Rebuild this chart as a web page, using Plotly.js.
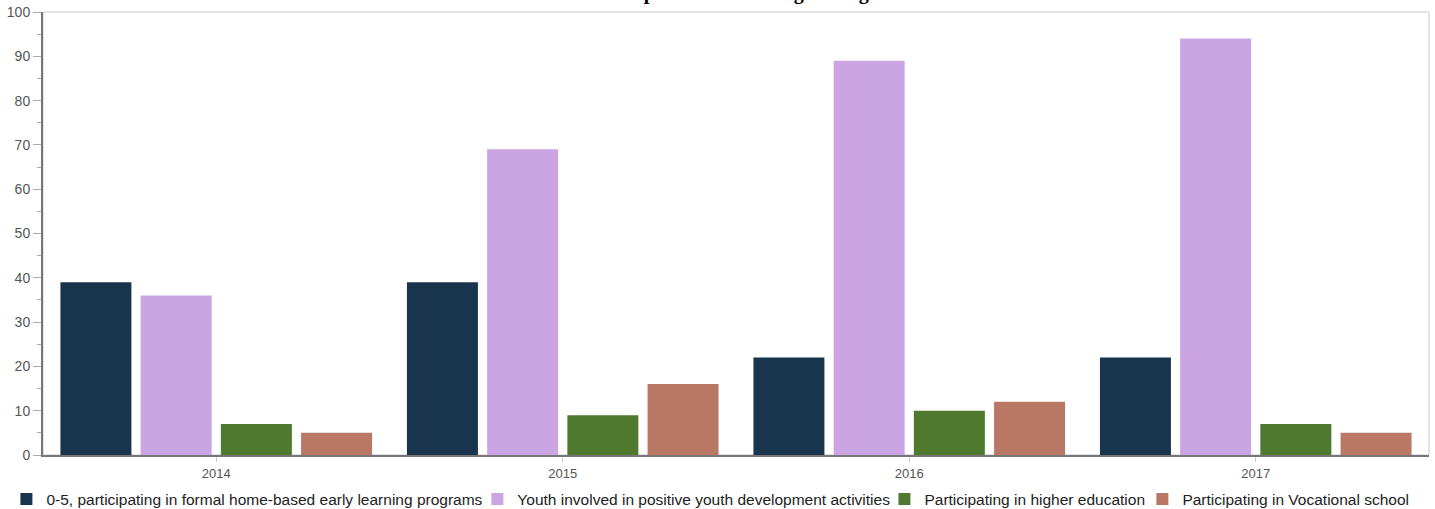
<!DOCTYPE html>
<html>
<head>
<meta charset="utf-8">
<script src="https://cdn.plot.ly/plotly-3.0.1.min.js"></script>
<style>html,body{margin:0;padding:0;background:#fff;}#chart{width:1435px;height:509px;}</style>
</head>
<body>
<div id="chart"></div>
<script>
var years = ['2014', '2015', '2016', '2017'];
var seriesNames = [
  '0-5, participating in formal home-based early learning programs',
  'Youth involved in positive youth development activities',
  'Participating in higher education',
  'Participating in Vocational school'
];
var earlyLearning = [39, 39, 22, 22];
var youthDevelopment = [36, 69, 89, 94];
var higherEducation = [7, 9, 10, 7];
var vocationalSchool = [5, 16, 12, 5];
var seriesColors = ['#18354d', '#cba4e3', '#4e792e', '#b97766'];
var yTicks = [0, 10, 20, 30, 40, 50, 60, 70, 80, 90, 100];
var chartTitle = 'Participation in Learning Settings';

var legendIds = ['legend', 'legend2', 'legend3', 'legend4'];
var legendX = [-0.0264, 0.3134, 0.6071, 0.7932];

var values = [earlyLearning, youthDevelopment, higherEducation, vocationalSchool];
var data = values.map(function (v, i) {
  return {
    type: 'bar',
    x: years,
    y: v,
    name: seriesNames[i],
    legend: legendIds[i],
    marker: {color: seriesColors[i]},
    hoverinfo: 'x+y+name'
  };
});

var layout = {
  width: 1435,
  height: 509,
  margin: {l: 43, r: 6, t: 12, b: 54, autoexpand: false},
  paper_bgcolor: '#fff',
  plot_bgcolor: '#fff',
  barmode: 'group',
  bargap: 0.074,
  bargroupgap: 0.115,
  font: {family: 'Liberation Sans, Arial, sans-serif', color: '#555'},
  xaxis: {
    type: 'category',
    showgrid: false,
    showline: true,
    linecolor: '#777',
    linewidth: 2,
    ticks: 'outside',
    ticklen: 5,
    tickcolor: '#ccc',
    tickfont: {size: 13, color: '#555'},
    zeroline: false,
    fixedrange: true
  },
  yaxis: {
    range: [0, 100],
    tickvals: yTicks,
    showgrid: false,
    showline: true,
    linecolor: '#777',
    linewidth: 2,
    ticks: 'outside',
    ticklen: 8,
    tickcolor: '#aaa',
    tickfont: {size: 14, color: '#555'},
    zeroline: false,
    minor: {dtick: 5, ticks: 'outside', ticklen: 4, tickcolor: '#aaa'},
    fixedrange: true
  },
  shapes: [{
    type: 'rect', xref: 'paper', yref: 'paper', x0: 0, x1: 1, y0: 0, y1: 1,
    line: {color: '#c8c8c8', width: 1}, layer: 'below'
  }],
  annotations: [{
    text: '<b>' + chartTitle + '</b>',
    font: {family: 'Liberation Serif, serif', size: 20, color: '#000'},
    xref: 'paper', yref: 'paper',
    x: 0.5, y: 1,
    xanchor: 'center', yanchor: 'bottom',
    xshift: -5, yshift: 6,
    showarrow: false
  }],
  showlegend: true
};

legendIds.forEach(function (id, i) {
  layout[id] = {
    orientation: 'h',
    xref: 'paper',
    yref: 'paper',
    x: legendX[i],
    xanchor: 'left',
    y: -0.1,
    yanchor: 'middle',
    font: {size: 15.5, color: '#222'},
    bgcolor: 'rgba(0,0,0,0)'
  };
});

Plotly.newPlot('chart', data, layout, {displayModeBar: false});
</script>
</body>
</html>
